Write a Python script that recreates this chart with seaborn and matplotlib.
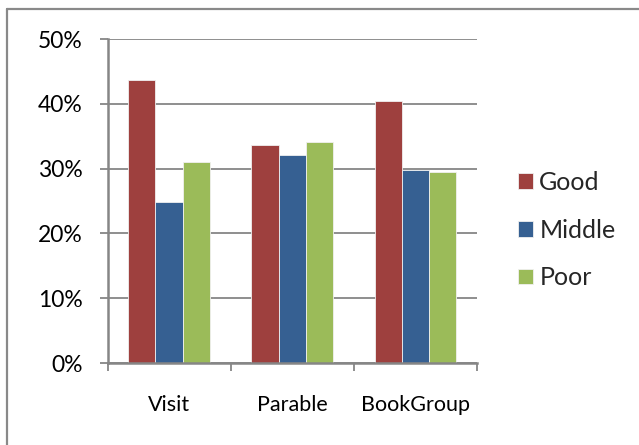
import matplotlib
matplotlib.use("Agg")
import matplotlib.pyplot as plt
from matplotlib.lines import Line2D
from matplotlib.ticker import FixedLocator, PercentFormatter
import seaborn as sns
import pandas as pd

# Share of ratings per activity
categories = ["Visit", "Parable", "BookGroup"]
ratings = ["Good", "Middle", "Poor"]
good = [43.7, 33.6, 40.4]
middle = [24.9, 32.1, 29.8]
poor = [31.0, 34.1, 29.5]
y_ticks = [0, 10, 20, 30, 40, 50]

colors = ["#9E403E", "#366092", "#9BBB59"]
axis_grey = "#868686"

df = pd.DataFrame({
    "category": categories * 3,
    "rating": [r for r in ratings for _ in categories],
    "share": good + middle + poor,
})

sns.set_theme(style="white")
plt.rcParams["font.family"] = ["Lato", "DejaVu Sans"]

fig = plt.figure(figsize=(6.39, 4.45), dpi=100)
ax = fig.add_axes([107.5 / 639, 1 - 363 / 445, (476.7 - 107.5) / 639, (363 - 39) / 445])

sns.barplot(data=df, x="category", y="share", hue="rating", order=categories,
            hue_order=ratings, palette=colors, width=0.66, gap=0,
            edgecolor="#f0f0f0", linewidth=0.6, saturation=1, ax=ax)

ax.set_xlim(-0.5, 2.5)
ax.set_ylim(0, 50)
ax.set_yticks(y_ticks)
ax.yaxis.set_major_formatter(PercentFormatter(decimals=0))
ax.set_xlabel("")
ax.set_ylabel("")

ax.grid(axis="y", color=axis_grey, linewidth=1.3)
ax.grid(axis="x", visible=False)
ax.set_axisbelow(True)

for side in ("top", "right"):
    ax.spines[side].set_visible(False)
for side in ("left", "bottom"):
    ax.spines[side].set_color(axis_grey)
    ax.spines[side].set_linewidth(1.8)

ax.tick_params(axis="y", direction="out", length=6, width=1.3, color=axis_grey,
               pad=12, labelsize=16.5, labelcolor="black", left=True)
ax.tick_params(axis="x", which="major", length=0, pad=23, labelsize=15.5,
               labelcolor="black")
ax.xaxis.set_minor_locator(FixedLocator([-0.5, 0.5, 1.5, 2.5]))
ax.tick_params(axis="x", which="minor", direction="out", length=6, width=1.3,
               color=axis_grey, bottom=True)

handles, labels = ax.get_legend_handles_labels()
ax.legend(handles, labels, loc="center left",
          bbox_to_anchor=(518 / 639, 1 - 230 / 445), bbox_transform=fig.transFigure,
          frameon=False, fontsize=18, handlelength=0.6, handleheight=0.6,
          handletextpad=0.25, labelspacing=0.99, borderpad=0, borderaxespad=0)

# outer chart frame: top and left edges
fig.add_artist(Line2D([7 / 639, 1.0], [1 - 9 / 445, 1 - 9 / 445],
                      transform=fig.transFigure, color="#898989", linewidth=1.6))
fig.add_artist(Line2D([7 / 639, 7 / 639], [0.0, 1 - 9 / 445],
                      transform=fig.transFigure, color="#898989", linewidth=1.6))

fig.savefig("out.png", dpi=100, facecolor="white")
